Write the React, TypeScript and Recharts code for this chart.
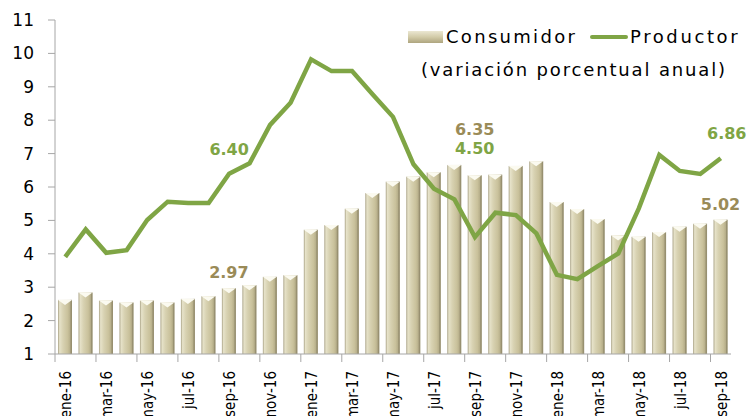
import React from 'react';
import { ComposedChart, Bar, Line, XAxis, YAxis, LabelList } from 'recharts';

const months = [
  'ene-16', 'feb-16', 'mar-16', 'abr-16', 'may-16', 'jun-16', 'jul-16', 'ago-16', 'sep-16', 'oct-16', 'nov-16', 'dic-16',
  'ene-17', 'feb-17', 'mar-17', 'abr-17', 'may-17', 'jun-17', 'jul-17', 'ago-17', 'sep-17', 'oct-17', 'nov-17', 'dic-17',
  'ene-18', 'feb-18', 'mar-18', 'abr-18', 'may-18', 'jun-18', 'jul-18', 'ago-18', 'sep-18',
];

const consumidor = [
  2.62, 2.84, 2.60, 2.54, 2.60, 2.54, 2.65, 2.73, 2.97, 3.06, 3.31, 3.36,
  4.72, 4.86, 5.35, 5.82, 6.16, 6.31, 6.44, 6.66, 6.35, 6.37, 6.63, 6.77,
  5.55, 5.34, 5.04, 4.55, 4.51, 4.65, 4.81, 4.90, 5.02,
];

const productor = [
  3.91, 4.73, 4.03, 4.11, 5.01, 5.56, 5.52, 5.52, 6.40, 6.71, 7.86, 8.52,
  9.82, 9.47, 9.47, 8.78, 8.10, 6.68, 5.95, 5.63, 4.50, 5.23, 5.16, 4.61,
  3.37, 3.24, 3.63, 4.01, 5.36, 6.96, 6.48, 6.39, 6.86,
];

const yTicks = [1, 2, 3, 4, 5, 6, 7, 8, 9, 10, 11];

// months whose values get a data label
const consumidorLabeled = ['sep-16', 'sep-17', 'sep-18'];
const productorLabeled = ['sep-16', 'sep-17', 'sep-18'];

const data = months.map((m, i) => ({ month: m, consumidor: consumidor[i], productor: productor[i] }));

const GREEN = '#7fa545';
const KHAKI = '#9a8b58';
const FONT = '"DejaVu Sans", Verdana, sans-serif';

const BarShape = (props: any) => {
  const { x, y, width, height } = props;
  if (!height || height <= 0) return null;
  const bevel = Math.min(5, height);
  return (
    <g>
      <rect x={x} y={y} width={width} height={height} fill="url(#barGrad)" />
      <rect x={x + width - 1.5} y={y} width={1.5} height={height} fill="#8f876a" opacity={0.7} />
      <polygon
        points={`${x},${y} ${x + width},${y} ${x + width / 2},${y + bevel}`}
        fill="#fbfaf0"
      />
    </g>
  );
};

const XTick = (props: any) => {
  const { x, y, payload } = props;
  const half = payload && payload.offset ? payload.offset : 10.25;
  return (
    <g>
      <line x1={x - half} y1={y - 8} x2={x - half} y2={y} stroke="#a6a6a6" />
      <text
        x={0}
        y={0}
        transform={`translate(${x + 6}, ${y + 9}) rotate(-90)`}
        textAnchor="end"
        fontFamily={'"DejaVu Sans Condensed", "Liberation Sans Narrow", "Liberation Sans", sans-serif'}
        fontSize={15}
        fill="#000"
      >
        {payload.value}
      </text>
    </g>
  );
};

const BarLabel = (props: any) => {
  const { x, y, width, index } = props;
  const m = months[index];
  if (!consumidorLabeled.includes(m)) return null;
  const cx = x + width / 2;
  const showProd = productorLabeled.includes(m) && m === 'sep-17';
  return (
    <g fontFamily={FONT} fontWeight="bold" fontSize={16} textAnchor="middle">
      <text x={cx} y={y - (showProd ? 40 : 10)} fill={KHAKI}>
        {consumidor[index].toFixed(2)}
      </text>
      {showProd && (
        <text x={cx} y={y - 21} fill={GREEN}>
          {productor[index].toFixed(2)}
        </text>
      )}
    </g>
  );
};

const LineLabel = (props: any) => {
  const { x, y, index } = props;
  const m = months[index];
  if (!productorLabeled.includes(m) || m === 'sep-17') return null;
  return (
    <text x={x + (index === months.length - 1 ? 6 : 0)} y={y - 19} fill={GREEN} fontFamily={FONT} fontWeight="bold" fontSize={16} textAnchor="middle">
      {productor[index].toFixed(2)}
    </text>
  );
};

const Legend = () => (
  <g fontFamily={FONT} fontSize={18} fill="#000">
    <rect x={408} y={31} width={35} height={12} fill="url(#legendGrad)" />
    <text x={446} y={43} letterSpacing={2.3}>Consumidor</text>
    <line x1={592} y1={37} x2={626} y2={37} stroke={GREEN} strokeWidth={4} strokeLinecap="round" />
    <text x={630} y={43} letterSpacing={2.6}>Productor</text>
    <text x={421} y={76} letterSpacing={1.85}>(variación porcentual anual)</text>
  </g>
);

export default function App() {
  return (
    <div style={{ position: 'absolute', left: 0, top: 0, width: 749, height: 416, background: '#fff' }}>
      <ComposedChart
        width={749}
        height={416}
        data={data}
        margin={{ top: 20, right: 18, bottom: 0, left: 0 }}
        barSize={14}
      >
        <defs>
          <linearGradient id="barGrad" x1="0" y1="0" x2="1" y2="0">
            <stop offset="0" stopColor="#a9a286" />
            <stop offset="0.12" stopColor="#e6e2c9" />
            <stop offset="0.35" stopColor="#d8d2b2" />
            <stop offset="0.7" stopColor="#c9c19b" />
            <stop offset="1" stopColor="#a79f7c" />
          </linearGradient>
          <linearGradient id="legendGrad" x1="0" y1="0" x2="0" y2="1">
            <stop offset="0" stopColor="#ebe7d2" />
            <stop offset="0.5" stopColor="#d2cba8" />
            <stop offset="1" stopColor="#aea57f" />
          </linearGradient>
        </defs>
        <XAxis
          dataKey="month"
          interval={1}
          height={62}
          axisLine={{ stroke: '#a6a6a6' }}
          tickLine={false}
          tick={<XTick />}
        />
        <YAxis
          domain={[1, 11]}
          ticks={yTicks}
          width={55}
          interval={0}
          axisLine={{ stroke: '#a6a6a6' }}
          tickLine={{ stroke: '#a6a6a6' }}
          tickSize={7}
          tickMargin={14}
          tick={{ fill: '#000', fontSize: 17, fontFamily: FONT }}
          allowDataOverflow
        />
        <Bar dataKey="consumidor" shape={<BarShape />} isAnimationActive={false}>
          <LabelList dataKey="consumidor" content={<BarLabel />} />
        </Bar>
        <Line
          dataKey="productor"
          type="linear"
          stroke={GREEN}
          strokeWidth={4.5}
          dot={false}
          activeDot={false}
          isAnimationActive={false}
        >
          <LabelList dataKey="productor" content={<LineLabel />} />
        </Line>
        <Legend />
      </ComposedChart>
    </div>
  );
}
